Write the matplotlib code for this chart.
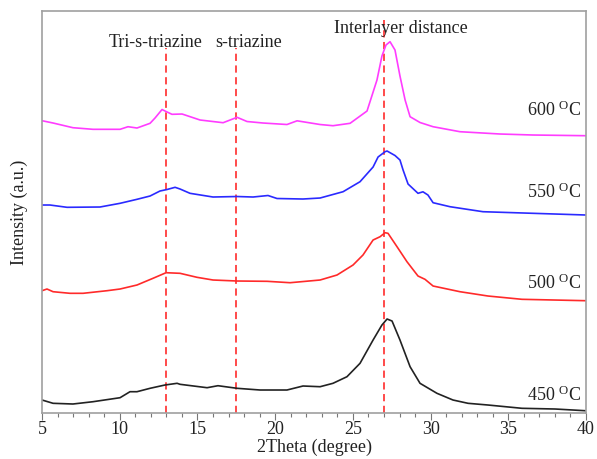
import matplotlib
matplotlib.use('Agg')
import matplotlib.pyplot as plt
from matplotlib.ticker import MultipleLocator

plt.rcParams['font.family'] = ['Liberation Serif', 'DejaVu Serif']
plt.rcParams['mathtext.default'] = 'regular'

# XRD patterns, stacked (intensity in a.u., offsets already included)
x600 = [5.0, 5.71, 6.99, 8.28, 10.02, 10.53, 11.11, 11.95, 12.27, 12.72, 12.98, 13.36, 14.01,
        15.17, 16.65, 17.55, 18.19, 19.22, 20.76, 21.41, 22.89, 23.72, 24.82, 25.91, 26.55,
        26.87, 27.13, 27.39, 27.71, 28.03, 28.36, 28.68, 29.32, 30.16, 31.89, 34.47, 36.59, 40.0]
y600 = [292.3, 290, 285.3, 283.7, 283.7, 286.3, 285, 289.7, 295, 303.5, 301.5, 298.7, 299,
        293, 290.3, 295.7, 291.5, 290, 288.5, 292.2, 288.5, 287.3, 289.7, 302, 333,
        357, 368, 371.3, 363, 337, 313, 296.3, 290.5, 286.3, 281.3, 279, 278, 277.3]

x550 = [5.0, 5.51, 6.61, 8.73, 10.02, 11.11, 11.95, 12.59, 13.04, 13.56, 13.88, 14.52, 16.0,
        17.55, 18.58, 19.54, 20.12, 21.79, 22.89, 24.37, 25.46, 26.3, 26.62, 27.07, 27.2,
        27.71, 28.03, 28.23, 28.55, 29.19, 29.51, 29.83, 30.16, 31.25, 33.37, 36.59, 40.0]
y550 = [208, 208, 205.7, 206, 209.7, 213.7, 217, 222, 223.5, 225.7, 224, 219.7, 216,
        216.5, 216, 217.5, 214.5, 214, 215, 221.3, 231.3, 246, 256, 261.3, 262,
        257.5, 253, 243, 229, 219.7, 221.2, 218, 210.3, 206.3, 201.3, 199.7, 198]

x500 = [5.0, 5.32, 5.71, 6.8, 7.64, 9.18, 10.02, 11.11, 12.14, 12.98, 13.88, 14.97, 16.0,
        17.55, 19.48, 20.96, 22.89, 23.98, 25.01, 25.65, 26.3, 26.75, 27.07, 27.26, 27.84,
        28.48, 29.19, 29.64, 30.16, 31.89, 33.69, 35.88, 40.0]
y500 = [122.3, 124, 121.3, 119.7, 119.7, 122.3, 124, 128, 134.7, 140.3, 139.7, 135.7, 133,
        132, 131.7, 130.3, 133, 138, 148, 158, 173, 176.3, 180.3, 179.7, 166.3,
        151.3, 137, 133.7, 127, 121.3, 117, 113.7, 112.3]

x450 = [5.0, 5.71, 6.99, 8.28, 10.02, 10.66, 11.11, 11.95, 12.91, 13.69, 13.88, 15.62, 16.32,
        17.55, 19.03, 20.76, 21.79, 22.89, 23.72, 24.62, 25.46, 26.3, 26.87, 27.2, 27.52,
        28.03, 28.68, 29.32, 30.41, 31.44, 32.41, 33.69, 35.88, 38.01, 39.94]
y450 = [13, 9.7, 9, 11.3, 15.3, 21.3, 21.3, 24.7, 28, 29.7, 28.7, 25.3, 27.3,
        24.7, 23, 23, 27, 26.3, 29.7, 36.3, 49.7, 73, 88, 94, 92,
        73, 46.3, 29.7, 19.7, 13, 9.7, 8, 4.7, 4, 2.3]

peak_pos = [12.95, 17.45, 27.0]
peak_top = [365, 365, 393]
peak_names = ['Tri-s-triazine', 's-triazine', 'Interlayer distance']
name_x = [12.3, 18.3, 28.1]
name_y = [371, 371, 385]

temps = ['600', '550', '500', '450']
label_y = [303, 221, 130, 18]

fs = 13

fig = plt.figure(figsize=(5.97, 4.59), dpi=100)
ax = fig.add_axes([0.0704, 0.1002, 0.9112, 0.8758])

for px, top in zip(peak_pos, peak_top):
    ax.plot([px, px], [0, top], color='#ff3b3b', lw=1.3, ls=(0, (4, 2.5)), zorder=1)

ax.plot(x600, y600, color='#ff3cff', lw=1.2)
ax.plot(x550, y550, color='#2a2aff', lw=1.2)
ax.plot(x500, y500, color='#ff2a2a', lw=1.2)
ax.plot(x450, y450, color='#222222', lw=1.2)

for n, tx, ty in zip(peak_names, name_x, name_y):
    ax.text(tx, ty, n, ha='center', va='center', fontsize=fs, color='#222222')

for t, ty in zip(temps, label_y):
    ax.text(39.7, ty, t + r' $^{O}$C', ha='right', va='center', fontsize=fs, color='#222222')

ax.set_xlim(5, 40)
ax.set_ylim(0, 402)
ax.xaxis.set_major_locator(MultipleLocator(5))
ax.xaxis.set_minor_locator(MultipleLocator(1))
ax.set_yticks([])
ax.tick_params(axis='x', which='major', direction='out', length=5, width=0.8,
               color='#777777', labelsize=fs, labelcolor='#222222', pad=1)
ax.tick_params(axis='x', which='minor', direction='out', length=3, width=0.8, color='#777777')
for s in ax.spines.values():
    s.set_color('#a0a0a0')
    s.set_linewidth(1.2)

ax.set_xlabel('2Theta (degree)', fontsize=fs, color='#222222', labelpad=0)
ax.set_ylabel('Intensity (a.u.)', fontsize=fs, color='#222222', labelpad=10)

fig.savefig('out.png', dpi=100)
